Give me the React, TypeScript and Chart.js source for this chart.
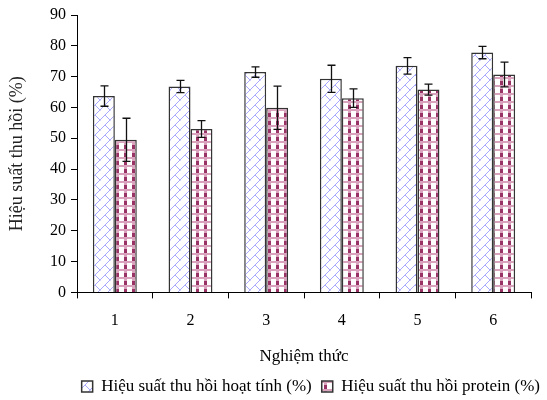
import React, { useEffect, useRef } from "react";
import { Chart, registerables } from "chart.js";
Chart.register(...registerables);

const categories = ["1", "2", "3", "4", "5", "6"];
const seriesNames = ["Hiệu suất thu hồi hoạt tính (%)", "Hiệu suất thu hồi protein (%)"];
const activityYield = [63.7, 66.8, 71.5, 69.3, 73.5, 77.8];
const activityErr = [3.3, 2.0, 1.7, 4.4, 2.7, 2.0];
const proteinYield = [49.5, 53.0, 59.9, 63.0, 65.8, 70.7];
const proteinErr = [7.0, 2.7, 7.0, 3.0, 1.8, 4.0];
const xTitle = "Nghiệm thức";
const yTitle = "Hiệu suất thu hồi (%)";

const FONT = "'Liberation Serif', 'Times New Roman', serif";

function makeBluePattern(ctx: CanvasRenderingContext2D) {
  const c = document.createElement("canvas");
  c.width = 10;
  c.height = 10;
  const g = c.getContext("2d")!;
  g.fillStyle = "#ffffff";
  g.fillRect(0, 0, 10, 10);
  g.strokeStyle = "#a8a8ff";
  g.lineWidth = 1;
  g.beginPath();
  g.moveTo(-1, 11);
  g.lineTo(11, -1);
  g.moveTo(5, 5);
  g.lineTo(10, 10);
  g.moveTo(0, 0);
  g.lineTo(0.5, 0.5);
  g.stroke();
  return ctx.createPattern(c, "repeat")!;
}

function makeRedPattern(ctx: CanvasRenderingContext2D) {
  const c = document.createElement("canvas");
  c.width = 8;
  c.height = 8;
  const g = c.getContext("2d")!;
  g.fillStyle = "#ffffff";
  g.fillRect(0, 0, 8, 8);
  g.fillStyle = "#d9a3be";
  g.fillRect(4, 0, 3, 8);
  g.fillRect(0, 5, 8, 2);
  g.fillStyle = "#993366";
  g.fillRect(4, 1, 3, 4);
  return ctx.createPattern(c, "repeat")!;
}

const errorBarPlugin = {
  id: "errorBars",
  afterDatasetsDraw(chart: any) {
    const ctx = chart.ctx;
    const yScale = chart.scales.y;
    const errs = [activityErr, proteinErr];
    chart.data.datasets.forEach((ds: any, i: number) => {
      const meta = chart.getDatasetMeta(i);
      meta.data.forEach((bar: any, j: number) => {
        const v = ds.data[j];
        const e = errs[i][j];
        const top = yScale.getPixelForValue(v + e);
        const bot = yScale.getPixelForValue(v - e);
        const x = Math.round(bar.x) + 0.5;
        ctx.save();
        ctx.strokeStyle = "#111";
        ctx.lineWidth = 1.3;
        ctx.beginPath();
        ctx.moveTo(x, top);
        ctx.lineTo(x, bot);
        ctx.moveTo(x - 4, top);
        ctx.lineTo(x + 4, top);
        ctx.moveTo(x - 4, bot);
        ctx.lineTo(x + 4, bot);
        ctx.stroke();
        ctx.restore();
      });
    });
  },
};

const legendShiftPlugin = {
  id: "legendShift",
  afterLayout(chart: any) {
    const lg = chart.legend;
    if (lg) {
      lg.right = chart.width + 3;
      lg.top = lg.top + 1;
      lg.bottom = lg.bottom + 1;
    }
  },
};

export default function App() {
  const ref = useRef<HTMLCanvasElement>(null);
  useEffect(() => {
    const canvas = ref.current!;
    const ctx = canvas.getContext("2d")!;
    const blue = makeBluePattern(ctx);
    const red = makeRedPattern(ctx);
    const chart = new Chart(canvas, {
      type: "bar",
      data: {
        labels: categories,
        datasets: [
          {
            label: seriesNames[0],
            data: activityYield,
            backgroundColor: blue,
            borderColor: "#333",
            borderWidth: 1.5,
            categoryPercentage: 0.58,
            barPercentage: 1.0,
          },
          {
            label: seriesNames[1],
            data: proteinYield,
            backgroundColor: red,
            borderColor: "#333",
            borderWidth: 1.5,
            categoryPercentage: 0.58,
            barPercentage: 1.0,
          },
        ],
      },
      options: {
        animation: false,
        responsive: false,
        layout: { padding: { top: 15, right: 16, bottom: -4, left: 0 } },
        plugins: {
          tooltip: { enabled: false },
          legend: {
            position: "bottom",
            align: "end",
            labels: {
              font: { family: FONT, size: 17, lineHeight: 1 },
              color: "#000",
              boxWidth: 11,
              boxHeight: 11,
              padding: 10,
            },
          },
        },
        scales: {
          x: {
            border: { color: "#000", width: 1 },
            grid: { offset: true, drawOnChartArea: false, drawTicks: true, tickLength: 6, color: "#000" },
            ticks: { font: { family: FONT, size: 16 }, color: "#000", padding: 13 },
            title: {
              display: true,
              text: xTitle,
              font: { family: FONT, size: 17 },
              color: "#000",
              padding: { top: 3, bottom: 0 },
            },
          },
          y: {
            min: 0,
            max: 90,
            border: { color: "#000", width: 1 },
            grid: { drawOnChartArea: false, drawTicks: true, tickLength: 6, color: "#000" },
            ticks: { stepSize: 10, font: { family: FONT, size: 16 }, color: "#000", padding: 5 },
            title: {
              display: true,
              text: yTitle,
              font: { family: FONT, size: 18 },
              color: "#222",
              padding: { top: 6, bottom: 0 },
            },
            afterFit: (s: any) => {
              s.width = 77;
            },
          },
        },
      },
      plugins: [errorBarPlugin, legendShiftPlugin],
    });
    return () => chart.destroy();
  }, []);
  return (
    <div style={{ position: "fixed", left: 0, top: 0, width: 547, height: 400, background: "#fff" }}>
      <canvas ref={ref} width={547} height={400} />
    </div>
  );
}
